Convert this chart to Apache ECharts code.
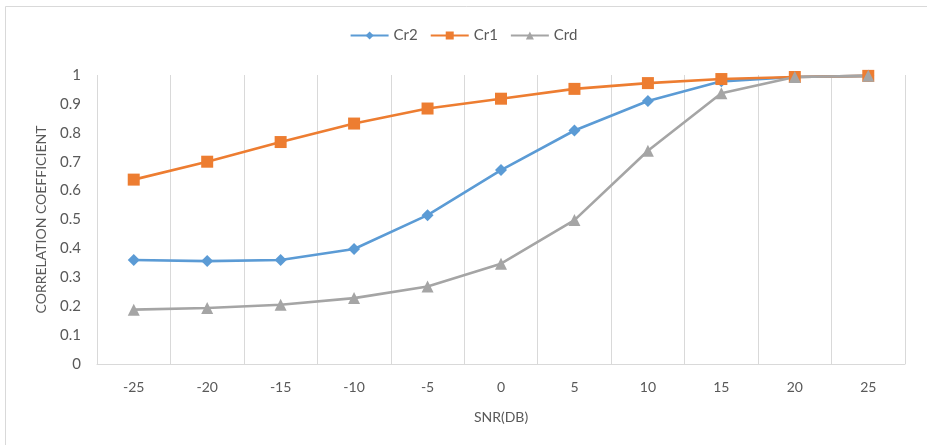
<!DOCTYPE html>
<html>
<head>
<meta charset="utf-8">
<script src="https://cdn.jsdelivr.net/npm/echarts@6/dist/echarts.min.js"></script>
<style>
  html, body { margin: 0; padding: 0; background: #fff; }
  #chart { width: 927px; height: 445px; }
</style>
</head>
<body>
<div id="chart"></div>
<script>
// SNR values (dB) along the horizontal axis
const snrLabels = ['-25', '-20', '-15', '-10', '-5', '0', '5', '10', '15', '20', '25'];

// Correlation coefficient per SNR for each estimator
const cr2 = [0.36, 0.356, 0.36, 0.398, 0.515, 0.671, 0.808, 0.91, 0.978, 0.993, 0.997];
const cr1 = [0.638, 0.70, 0.768, 0.832, 0.884, 0.918, 0.952, 0.972, 0.986, 0.993, 0.997];
const crd = [0.188, 0.194, 0.205, 0.228, 0.268, 0.347, 0.498, 0.738, 0.937, 0.993, 0.997];

const FONT = 'Lato, "Open Sans", sans-serif';
const TEXT = '#595959';
const GRIDLINE = '#d9d9d9';

const chart = echarts.init(document.getElementById('chart'));

function line(name, data, color, symbol, size) {
  return {
    name, type: 'line', data,
    symbol, symbolSize: size,
    lineStyle: { color, width: 2.6 },
    itemStyle: { color },
    emphasis: { disabled: true },
    animation: false
  };
}

chart.setOption({
  backgroundColor: '#fff',
  graphic: [{
    type: 'rect',
    shape: { x: 5.5, y: 6.5, width: 940, height: 460 },
    style: { fill: 'none', stroke: '#d9d9d9', lineWidth: 1 },
    silent: true
  }],
  legend: {
    top: 23,
    left: 'center',
    itemWidth: 38,
    itemHeight: 10,
    itemGap: 12,
    textStyle: { color: TEXT, fontFamily: FONT, fontSize: 15 },
    data: ['Cr2', 'Cr1', 'Crd']
  },
  grid: { left: 97, right: 22, top: 75, bottom: 81 },
  xAxis: {
    type: 'category',
    data: snrLabels,
    boundaryGap: true,
    name: 'SNR(DB)',
    nameLocation: 'middle',
    nameGap: 46,
    nameTextStyle: { color: TEXT, fontFamily: FONT, fontSize: 14 },
    axisLine: { lineStyle: { color: GRIDLINE, width: 1 } },
    axisTick: { show: false },
    axisLabel: { color: TEXT, fontFamily: FONT, fontSize: 14, margin: 16 },
    splitLine: { show: true, lineStyle: { color: GRIDLINE, width: 1 } }
  },
  yAxis: {
    type: 'value',
    min: 0, max: 1, interval: 0.1,
    name: 'CORRELATION COEFFICIENT',
    nameLocation: 'middle',
    nameRotate: 90,
    nameGap: 49,
    nameTextStyle: { color: TEXT, fontFamily: FONT, fontSize: 14 },
    axisLine: { show: false },
    axisTick: { show: false },
    splitLine: { show: false },
    axisLabel: {
      color: TEXT, fontFamily: FONT, fontSize: 15, margin: 16,
      formatter: v => String(Math.round(v * 10) / 10)
    }
  },
  series: [
    line('Cr2', cr2, '#5B9BD5', 'diamond', 12),
    line('Cr1', cr1, '#ED7D31', 'rect', 12),
    line('Crd', crd, '#A5A5A5', 'triangle', 12)
  ]
});
</script>
</body>
</html>
